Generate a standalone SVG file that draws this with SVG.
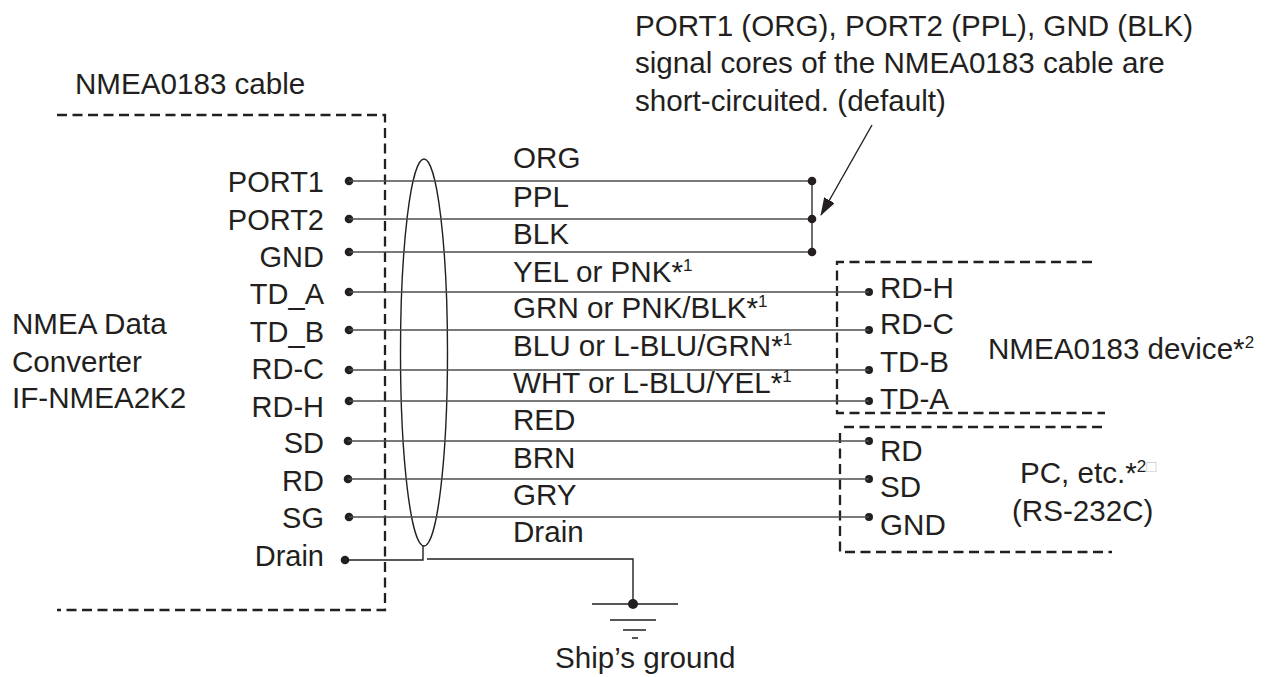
<svg xmlns="http://www.w3.org/2000/svg" width="1270" height="677" viewBox="0 0 1270 677">
<style>
text{font-family:"Liberation Sans",Arial,sans-serif;font-size:29.6px;fill:#231f20}
.r{text-anchor:end;font-size:29px}
.sup{font-size:17px}
.dash{fill:none;stroke:#231f20;stroke-width:2.3;stroke-dasharray:10 5.5}
.w{fill:none;stroke:#4d4d4d;stroke-width:1.6}
.k{fill:none;stroke:#231f20;stroke-width:1.4}
.dot{fill:#231f20}
</style>
<defs>
<marker id="ah" markerWidth="18" markerHeight="12" refX="17" refY="6" orient="auto" markerUnits="userSpaceOnUse" viewBox="0 0 18 12">
<path d="M0,0 L18,6 L0,12 z" fill="#231f20"/>
</marker>
</defs>
<rect width="1270" height="677" fill="#fff"/>

<g id="converter">
<text x="75" y="94">NMEA0183 cable</text>
<path class="dash" d="M57,115 H385 V610 H57"/>
<text x="12" y="334">NMEA Data</text>
<text x="12" y="372">Converter</text>
<text x="12" y="408">IF-NMEA2K2</text>
<text class="r" x="324" y="192">PORT1</text>
<text class="r" x="324" y="230">PORT2</text>
<text class="r" x="324" y="267">GND</text>
<text class="r" x="324" y="304">TD_A</text>
<text class="r" x="324" y="342">TD_B</text>
<text class="r" x="324" y="379">RD-C</text>
<text class="r" x="324" y="417">RD-H</text>
<text class="r" x="324" y="453">SD</text>
<text class="r" x="324" y="491">RD</text>
<text class="r" x="324" y="528">SG</text>
<text class="r" x="324" y="566">Drain</text>
<circle class="dot" cx="349" cy="181" r="4.3"/>
<circle class="dot" cx="349" cy="219" r="4.3"/>
<circle class="dot" cx="349" cy="252" r="4.3"/>
<circle class="dot" cx="349" cy="292" r="4.3"/>
<circle class="dot" cx="349" cy="330" r="4.3"/>
<circle class="dot" cx="349" cy="370" r="4.3"/>
<circle class="dot" cx="349" cy="401" r="4.3"/>
<circle class="dot" cx="348" cy="441" r="4.3"/>
<circle class="dot" cx="348" cy="479" r="4.3"/>
<circle class="dot" cx="349" cy="517" r="4.3"/>
<circle class="dot" cx="345" cy="560" r="4.3"/>
</g>

<g id="nmea-device">
<path class="dash" d="M1092,262 H837 V413 H1105"/>
<text x="880" y="298">RD-H</text>
<text x="880" y="334">RD-C</text>
<text x="880" y="372">TD-B</text>
<text x="880" y="409">TD-A</text>
<text x="988" y="359">NMEA0183 device*<tspan class="sup" dy="-11">2</tspan></text>
<circle class="dot" cx="869" cy="292" r="4"/>
<circle class="dot" cx="869" cy="330" r="4"/>
<circle class="dot" cx="869" cy="370" r="4"/>
<circle class="dot" cx="869" cy="401" r="4"/>
</g>

<g id="pc">
<path class="dash" d="M844,427 H1102"/>
<path class="dash" d="M840,433 V552 H1112"/>
<text x="880" y="461">RD</text>
<text x="880" y="497">SD</text>
<text x="880" y="535">GND</text>
<text x="1020" y="483">PC, etc.*<tspan class="sup" dy="-11">2</tspan><tspan class="sup" fill="#c8c8c8">□</tspan></text>
<text x="1012" y="521">(RS-232C)</text>
<circle class="dot" cx="869" cy="441" r="4"/>
<circle class="dot" cx="869" cy="479" r="4"/>
<circle class="dot" cx="869" cy="517" r="4"/>
</g>

<g id="ground">
<path class="k" d="M592,604 H678 M610,620 H656 M623,630 H646 M632,638 H638"/>
<circle class="dot" cx="633" cy="604" r="5"/>
<text x="555" y="668">Ship’s ground</text>
</g>

<g id="note">
<text x="635" y="36">PORT1 (ORG), PORT2 (PPL), GND (BLK)</text>
<text x="635" y="73">signal cores of the NMEA0183 cable are</text>
<text x="635" y="111">short-circuited. (default)</text>
</g>

<g id="connectors">
<ellipse class="k" cx="424" cy="352.5" rx="23.5" ry="193.5" stroke-width="1.2"/>
<path class="w" d="M349,181 H812 M349,219 H812 M349,252 H812 M812,181 V252"/>
<circle class="dot" cx="812" cy="181" r="4.3"/>
<circle class="dot" cx="812" cy="219" r="4.3"/>
<circle class="dot" cx="812" cy="252" r="4.3"/>
<path class="w" d="M349,292 H869 M349,330 H869 M349,370 H869 M349,401 H869 M348,441 H869 M348,479 H869 M349,517 H869"/>
<path class="k" d="M345,560 H423 V546 M427,559 H633 V604"/>
<line x1="872" y1="125" x2="821" y2="215" stroke="#231f20" stroke-width="1.4" marker-end="url(#ah)"/>
<text x="513" y="168">ORG</text>
<text x="513" y="207">PPL</text>
<text x="513" y="244">BLK</text>
<text x="513" y="282">YEL or PNK*<tspan class="sup" dy="-11">1</tspan></text>
<text x="513" y="318">GRN or PNK/BLK*<tspan class="sup" dy="-11">1</tspan></text>
<text x="513" y="356">BLU or L-BLU/GRN*<tspan class="sup" dy="-11">1</tspan></text>
<text x="513" y="393">WHT or L-BLU/YEL*<tspan class="sup" dy="-11">1</tspan></text>
<text x="513" y="430">RED</text>
<text x="513" y="468">BRN</text>
<text x="513" y="505">GRY</text>
<text x="513" y="542">Drain</text>
</g>
</svg>
